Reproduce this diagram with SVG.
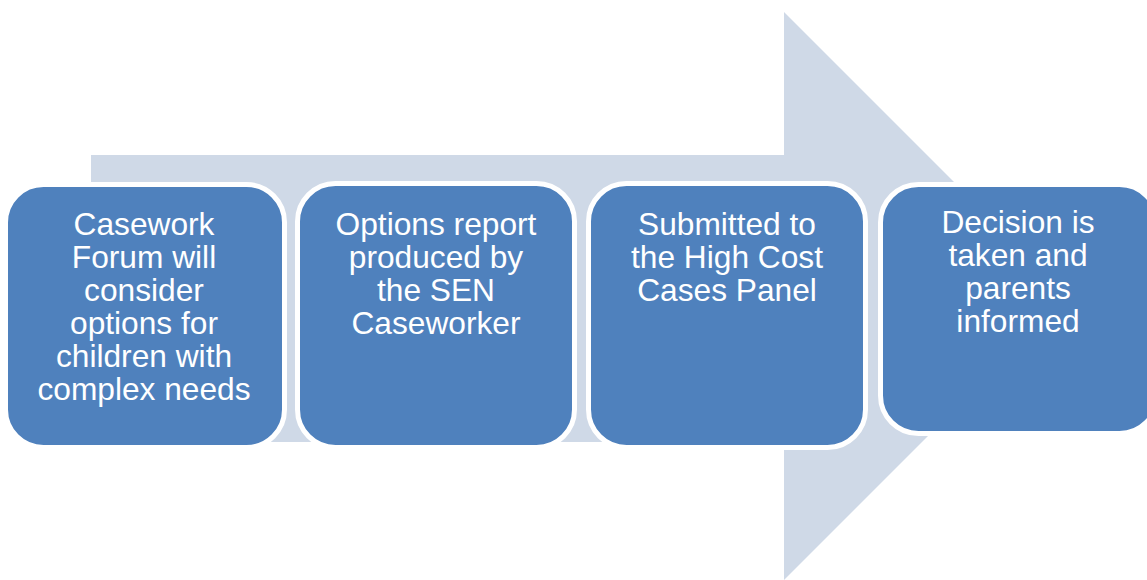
<svg xmlns="http://www.w3.org/2000/svg" width="1147" height="580" viewBox="0 0 1147 580">
<style>
.box{fill:#4F81BD;stroke:#FFFFFF;stroke-width:5}
.t{font-family:"Liberation Sans",Arial,sans-serif;font-size:31.7px;fill:#FFFFFF;text-anchor:middle}
</style>
<rect width="1147" height="580" fill="#FFFFFF"/>
<g id="arrow">
<polygon points="91,155 784,155 784,12 1068,296 784,580 784,442 91,442" fill="#CFD9E7"/>
</g>
<g id="connectors"></g>
<g id="node1">
<rect class="box" x="5.5" y="184.5" width="279" height="263" rx="38"/>
<text class="t" x="144" y="235">Casework</text>
<text class="t" x="144" y="268">Forum will</text>
<text class="t" x="144" y="301">consider</text>
<text class="t" x="144" y="334">options for</text>
<text class="t" x="144" y="367">children with</text>
<text class="t" x="144" y="400">complex needs</text>
</g>
<g id="node2">
<rect class="box" x="297.5" y="183.5" width="277" height="264" rx="38"/>
<text class="t" x="436" y="235">Options report</text>
<text class="t" x="436" y="268">produced by</text>
<text class="t" x="436" y="301">the SEN</text>
<text class="t" x="436" y="334">Caseworker</text>
</g>
<g id="node3">
<rect class="box" x="588.5" y="183.5" width="277" height="264" rx="38"/>
<text class="t" x="727" y="235">Submitted to</text>
<text class="t" x="727" y="268">the High Cost</text>
<text class="t" x="727" y="301">Cases Panel</text>
</g>
<g id="node4">
<rect class="box" x="880.5" y="184.5" width="277" height="249" rx="38"/>
<text class="t" x="1018" y="233">Decision is</text>
<text class="t" x="1018" y="266">taken and</text>
<text class="t" x="1018" y="299">parents</text>
<text class="t" x="1018" y="332">informed</text>
</g>
</svg>
